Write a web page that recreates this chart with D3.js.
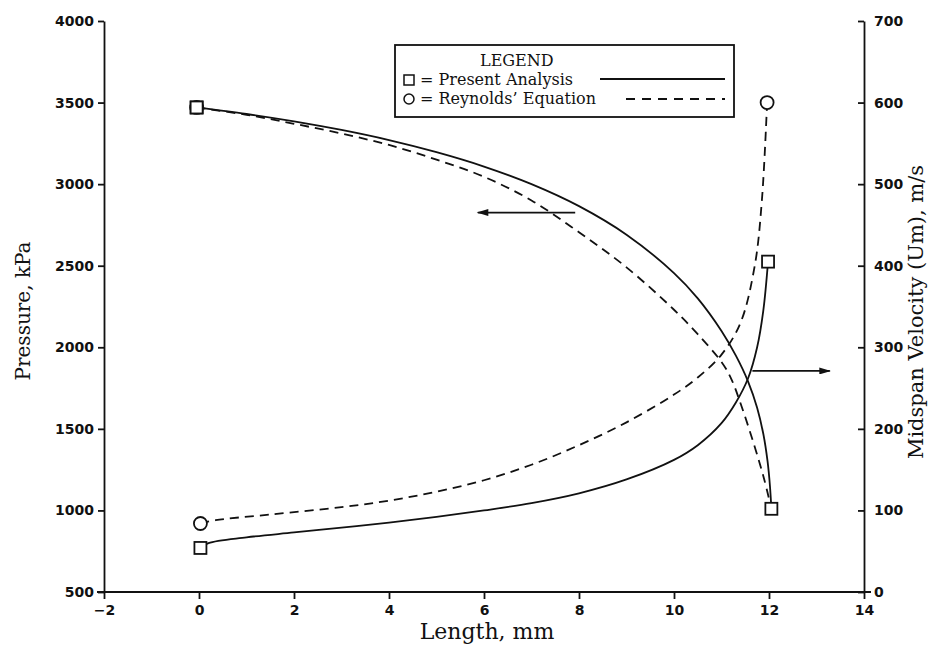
<!DOCTYPE html>
<html>
<head>
<meta charset="utf-8">
<script src="https://cdn.jsdelivr.net/npm/d3@7"></script>
<style>
  body { margin: 0; background: #fff; }
  svg { display: block; }
  .tick text { font-family: "DejaVu Sans", sans-serif; font-weight: bold; font-size: 14px; fill: #111; }
  .title { font-family: "DejaVu Serif", serif; fill: #111; }
</style>
</head>
<body>
<svg id="chart" width="940" height="652"></svg>
<script>
'use strict';
/*
 *	Data
 */
// Present Analysis, pressure (kPa) vs length (mm)
var presPressX = [-0.05, 1, 2, 3, 4, 5, 6, 7, 8, 9, 10, 10.5, 11, 11.3, 11.56, 11.75, 11.88, 11.97, 12.02, 12.05];
var presPressY = [3470, 3430, 3385, 3332, 3270, 3196, 3108, 3000, 2865, 2690, 2455, 2300, 2100, 1950, 1790, 1630, 1470, 1300, 1150, 1010];
// Reynolds' Equation, pressure (kPa)
var reyPressX = [-0.05, 1, 2, 3, 4, 5, 6, 7, 8, 9, 10, 10.5, 11, 11.2, 11.42, 11.71, 11.9, 12.05];
var reyPressY = [3470, 3425, 3370, 3310, 3240, 3150, 3045, 2900, 2705, 2490, 2230, 2080, 1910, 1810, 1640, 1380, 1190, 1010];
// Present Analysis, midspan velocity (m/s)
var presVelX = [0.03, 0.2, 1, 2, 3, 4, 5, 6, 7, 8, 9, 10, 10.5, 11, 11.3, 11.56, 11.75, 11.88, 11.98];
var presVelY = [54, 60, 67, 73, 79, 85, 92, 100, 109, 121, 138, 162, 180, 207, 232, 262, 300, 345, 405];
// Reynolds' Equation, midspan velocity (m/s)
var reyVelX = [0.03, 0.35, 1.5, 3, 4, 5, 6, 7, 8, 9, 10, 10.5, 11, 11.4, 11.7, 11.85, 11.96];
var reyVelY = [84, 88, 95, 104, 112, 123, 137, 156, 180, 208, 242, 263, 291, 330, 400, 480, 600];

var xTicks = [-2, 0, 2, 4, 6, 8, 10, 12, 14];
var pTicks = [500, 1000, 1500, 2000, 2500, 3000, 3500, 4000];
var vTicks = [0, 100, 200, 300, 400, 500, 600, 700];

// arrows pointing to the axis each pair of curves belongs to
var leftArrow = {x0: 7.92, x1: 5.87, y: 2826};
var rightArrow = {x0: 11.65, x1: 13.28, y: 271};

/*
 *	Scales
 */
var svg = d3.select('#chart');
var x = d3.scaleLinear().domain([-2, 14]).range([104, 864]);
var yP = d3.scaleLinear().domain([500, 4000]).range([592, 21]);
var yV = d3.scaleLinear().domain([0, 700]).range([592, 21]);

svg.append('rect').attr('width', 940).attr('height', 652).attr('fill', '#fff');

/*
 *	Axes
 */
var axL = svg.append('g').attr('transform', 'translate(104,0)')
	.call(d3.axisLeft(yP).tickValues(pTicks).tickSizeInner(6).tickSizeOuter(0).tickPadding(4).tickFormat(d3.format('d')));
var axR = svg.append('g').attr('transform', 'translate(864,0)')
	.call(d3.axisRight(yV).tickValues(vTicks).tickSizeInner(-6).tickSizeOuter(0).tickPadding(10).tickFormat(d3.format('d')));
var axB = svg.append('g').attr('transform', 'translate(0,592)')
	.call(d3.axisBottom(x).tickValues(xTicks).tickSizeInner(7).tickSizeOuter(0).tickPadding(6).tickFormat(function(d){ return d < 0 ? '\u2212' + Math.abs(d) : d; }));
axB.select('.domain').remove();
svg.append('line').attr('x1', x.range()[0] - 7).attr('x2', x.range()[1] + 7)
	.attr('y1', 592).attr('y2', 592).attr('stroke', '#111').attr('stroke-width', 1.8);
[axL, axR, axB].forEach(function(a){
	a.selectAll('path, line').attr('stroke', '#111').attr('stroke-width', 1.8);
});

// axis titles
svg.append('text').attr('class', 'title').attr('font-size', 20)
	.attr('transform', 'translate(30,311) rotate(-90)').attr('text-anchor', 'middle')
	.text('Pressure, kPa');
svg.append('text').attr('class', 'title').attr('font-size', 21)
	.attr('transform', 'translate(923,312) rotate(-90)').attr('text-anchor', 'middle')
	.text('Midspan Velocity (Um), m/s');
svg.append('text').attr('class', 'title').attr('font-size', 22)
	.attr('x', 487).attr('y', 639).attr('text-anchor', 'middle')
	.text('Length, mm');

/*
 *	Curves
 */
function series(xs, ys) {
	return xs.map(function(d, i){ return [d, ys[i]]; });
}
function drawCurve(data, yScale, dashed) {
	var line = d3.line().x(function(d){ return x(d[0]); }).y(function(d){ return yScale(d[1]); })
		.curve(d3.curveCatmullRom.alpha(0.5));
	svg.append('path').datum(data).attr('d', line)
		.attr('fill', 'none').attr('stroke', '#111').attr('stroke-width', 1.8)
		.attr('stroke-dasharray', dashed ? '9,6' : null);
}
drawCurve(series(presPressX, presPressY), yP, false);
drawCurve(series(reyPressX, reyPressY), yP, true);
drawCurve(series(presVelX, presVelY), yV, false);
drawCurve(series(reyVelX, reyVelY), yV, true);

// end markers
function square(px, py) {
	svg.append('rect').attr('x', px - 6).attr('y', py - 6).attr('width', 12).attr('height', 12)
		.attr('fill', '#fff').attr('stroke', '#111').attr('stroke-width', 1.8);
}
function circle(px, py) {
	svg.append('circle').attr('cx', px).attr('cy', py).attr('r', 6.5)
		.attr('fill', '#fff').attr('stroke', '#111').attr('stroke-width', 1.8);
}
function ends(xs, ys, yScale, mark) {
	mark(x(xs[0]), yScale(ys[0]));
	mark(x(xs[xs.length - 1]), yScale(ys[ys.length - 1]));
}
ends(presPressX, presPressY, yP, square);
ends(presVelX, presVelY, yV, square);
ends(reyVelX, reyVelY, yV, circle);
circle(x(reyPressX[0]), yP(reyPressY[0])); // sits under the square, as in the figure
square(x(presPressX[0]), yP(presPressY[0]));

/*
 *	Arrows
 */
var defs = svg.append('defs');
defs.append('marker').attr('id', 'head').attr('viewBox', '0 0 10 6').attr('refX', 9).attr('refY', 3)
	.attr('markerWidth', 14).attr('markerHeight', 7).attr('markerUnits', 'userSpaceOnUse').attr('orient', 'auto')
	.append('path').attr('d', 'M0,0L10,3L0,6Z').attr('fill', '#111');
svg.append('line').attr('x1', x(leftArrow.x0)).attr('x2', x(leftArrow.x1))
	.attr('y1', yP(leftArrow.y)).attr('y2', yP(leftArrow.y))
	.attr('stroke', '#111').attr('stroke-width', 1.8).attr('marker-end', 'url(#head)');
svg.append('line').attr('x1', x(rightArrow.x0)).attr('x2', x(rightArrow.x1))
	.attr('y1', yV(rightArrow.y)).attr('y2', yV(rightArrow.y))
	.attr('stroke', '#111').attr('stroke-width', 1.8).attr('marker-end', 'url(#head)');

/*
 *	Legend
 */
var lg = svg.append('g').attr('class', 'title').attr('font-size', 16);
lg.append('rect').attr('x', 395).attr('y', 45).attr('width', 339).attr('height', 72)
	.attr('fill', '#fff').attr('stroke', '#111').attr('stroke-width', 1.8);
lg.append('text').attr('x', 480).attr('y', 66).text('LEGEND');
lg.append('rect').attr('x', 404).attr('y', 75).attr('width', 10).attr('height', 10)
	.attr('fill', 'none').attr('stroke', '#111').attr('stroke-width', 1.5);
lg.append('text').attr('x', 420).attr('y', 85).text('= Present Analysis');
lg.append('circle').attr('cx', 409).attr('cy', 99).attr('r', 5)
	.attr('fill', 'none').attr('stroke', '#111').attr('stroke-width', 1.5);
lg.append('text').attr('x', 420).attr('y', 104).text('= Reynolds\u2019 Equation');
lg.append('line').attr('x1', 600).attr('x2', 725).attr('y1', 79).attr('y2', 79)
	.attr('stroke', '#111').attr('stroke-width', 1.8);
lg.append('line').attr('x1', 626).attr('x2', 725).attr('y1', 99).attr('y2', 99)
	.attr('stroke', '#111').attr('stroke-width', 1.8).attr('stroke-dasharray', '9,7');
</script>
</body>
</html>
